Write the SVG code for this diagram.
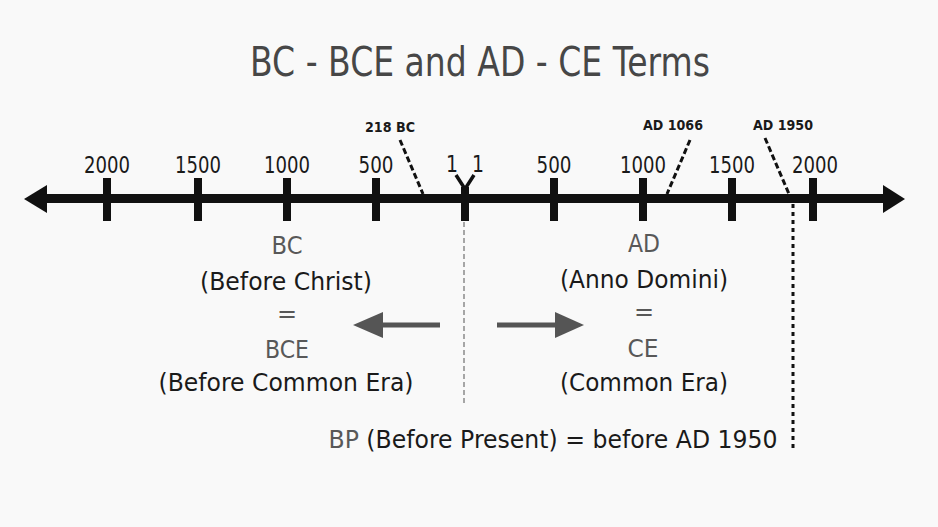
<svg xmlns="http://www.w3.org/2000/svg" width="938" height="527" viewBox="0 0 938 527">
<defs>
<style>
text{font-family:"DejaVu Sans","Liberation Sans",sans-serif;text-anchor:middle}
.title{font-size:40px;fill:#474747}
.yr{font-size:22.5px;fill:#1a1a1a}
.sm{font-size:14px;font-weight:bold;fill:#1a1a1a}
.term{font-size:24px;fill:#585858}
.desc{font-size:25px;fill:#1a1a1a}
.tick{fill:#111}
.lead{stroke:#111;stroke-width:3;stroke-dasharray:6 3;fill:none}
.garrow{stroke:#555;stroke-width:5;fill:none}
</style>
</defs>
<rect width="938" height="527" fill="#f9f9f9"/>

<g id="title"><text class="title" x="480" y="76" textLength="460" lengthAdjust="spacingAndGlyphs">BC - BCE and AD - CE Terms</text></g>

<g id="axis">
<line x1="42" y1="198.5" x2="888" y2="198.5" stroke="#111" stroke-width="9"/>
<polygon points="24,199 47,185 47,213" fill="#111"/>
<polygon points="905,199 883,185 883,213" fill="#111"/>
<rect class="tick" x="103" y="178" width="8" height="43"/>
<rect class="tick" x="194" y="178" width="8" height="43"/>
<rect class="tick" x="283" y="178" width="8" height="43"/>
<rect class="tick" x="372" y="178" width="8" height="43"/>
<rect class="tick" x="461" y="187" width="8" height="34"/>
<rect class="tick" x="550" y="178" width="8" height="43"/>
<rect class="tick" x="639" y="178" width="8" height="43"/>
<rect class="tick" x="728" y="178" width="8" height="43"/>
<rect class="tick" x="809" y="178" width="8" height="43"/>
<polyline points="456,175 465,189 474,175" fill="none" stroke="#111" stroke-width="3.5"/>
</g>

<g id="year-labels">
<text class="yr" x="107" y="173" textLength="46" lengthAdjust="spacingAndGlyphs">2000</text>
<text class="yr" x="198" y="173" textLength="46" lengthAdjust="spacingAndGlyphs">1500</text>
<text class="yr" x="287" y="173" textLength="46" lengthAdjust="spacingAndGlyphs">1000</text>
<text class="yr" x="376" y="173" textLength="35" lengthAdjust="spacingAndGlyphs">500</text>
<text class="yr" x="452" y="172" textLength="12" lengthAdjust="spacingAndGlyphs">1</text>
<text class="yr" x="478" y="172" textLength="12" lengthAdjust="spacingAndGlyphs">1</text>
<text class="yr" x="554" y="173" textLength="35" lengthAdjust="spacingAndGlyphs">500</text>
<text class="yr" x="643" y="173" textLength="46" lengthAdjust="spacingAndGlyphs">1000</text>
<text class="yr" x="732" y="173" textLength="46" lengthAdjust="spacingAndGlyphs">1500</text>
<text class="yr" x="815" y="173" textLength="46" lengthAdjust="spacingAndGlyphs">2000</text>
</g>

<g id="event-218bc"><text class="sm" x="390" y="132" textLength="50" lengthAdjust="spacingAndGlyphs">218 BC</text></g>
<g id="event-ad1066"><text class="sm" x="673" y="130" textLength="60" lengthAdjust="spacingAndGlyphs">AD 1066</text></g>
<g id="event-ad1950"><text class="sm" x="783" y="130" textLength="60" lengthAdjust="spacingAndGlyphs">AD 1950</text></g>

<g id="bc-block">
<text class="term" x="287" y="254" textLength="31" lengthAdjust="spacingAndGlyphs">BC</text>
<text class="desc" x="286" y="290" textLength="172" lengthAdjust="spacingAndGlyphs">(Before Christ)</text>
<text class="term" x="287" y="322">=</text>
<text class="term" x="287" y="358" textLength="44" lengthAdjust="spacingAndGlyphs">BCE</text>
<text class="desc" x="286" y="391" textLength="255" lengthAdjust="spacingAndGlyphs">(Before Common Era)</text>
</g>

<g id="ad-block">
<text class="term" x="644" y="252" textLength="32" lengthAdjust="spacingAndGlyphs">AD</text>
<text class="desc" x="644" y="288" textLength="168" lengthAdjust="spacingAndGlyphs">(Anno Domini)</text>
<text class="term" x="644" y="320">=</text>
<text class="term" x="643" y="357" textLength="31" lengthAdjust="spacingAndGlyphs">CE</text>
<text class="desc" x="644" y="391" textLength="168" lengthAdjust="spacingAndGlyphs">(Common Era)</text>
</g>

<g id="bp-note"><text class="desc" x="553" y="448" textLength="449" lengthAdjust="spacingAndGlyphs"><tspan fill="#585858">BP</tspan> (Before Present) = before AD 1950</text></g>

<g id="connectors">
<line class="lead" x1="400" y1="140" x2="423" y2="194"/>
<line class="lead" x1="690" y1="140" x2="667" y2="194"/>
<line class="lead" x1="765" y1="138" x2="789" y2="194"/>
<line x1="793" y1="204" x2="793" y2="451" stroke="#111" stroke-width="3" stroke-dasharray="4 4"/>
<line x1="464" y1="222" x2="464" y2="405" stroke="#8a8a8a" stroke-width="1.5" stroke-dasharray="5 3"/>
<line class="garrow" x1="440" y1="325" x2="378" y2="325"/>
<polygon points="353,325 383,312 383,338" fill="#555"/>
<line class="garrow" x1="497" y1="325" x2="560" y2="325"/>
<polygon points="584,325 555,312 555,338" fill="#555"/>
</g>
</svg>
